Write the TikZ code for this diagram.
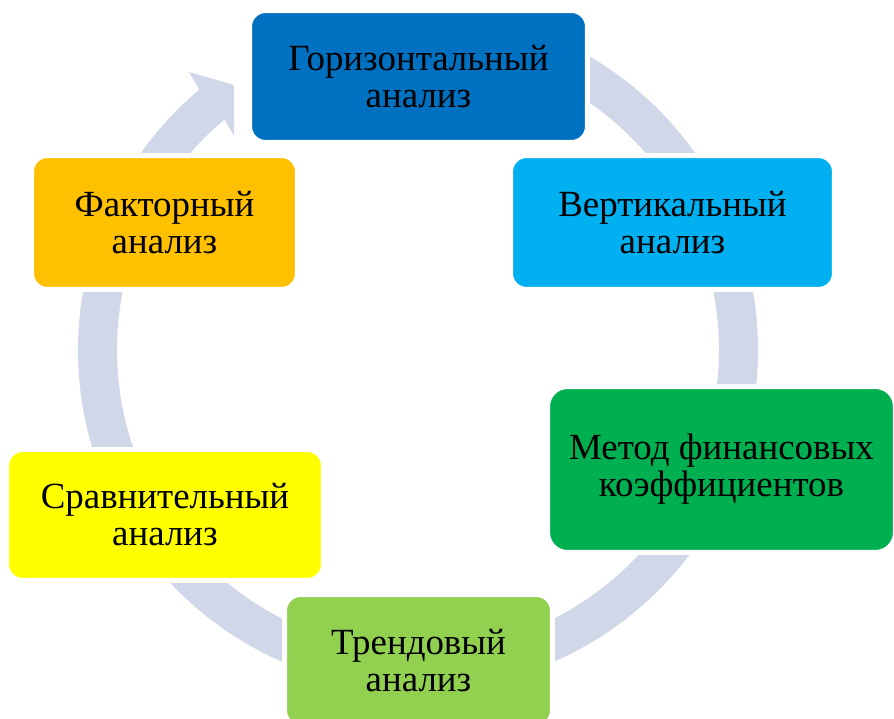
\documentclass[tikz,border=0pt]{standalone}
\usepackage{fontspec}
\setmainfont{Liberation Serif}
\usetikzlibrary{calc}
\definecolor{ringc}{RGB}{208,215,232}
\definecolor{hblue}{RGB}{0,112,192}
\definecolor{vblue}{RGB}{0,176,240}
\definecolor{mgreen}{RGB}{0,176,80}
\definecolor{tgreen}{RGB}{146,208,80}
\definecolor{syellow}{RGB}{255,255,0}
\definecolor{forange}{RGB}{255,192,0}
\begin{document}
\begin{tikzpicture}[x=0.02cm,y=-0.02cm,
  box/.style={draw=white, line width=0.1cm, rounded corners=0.32cm, align=center,
    inner sep=0pt, text=black, font=\fontsize{21}{21}\selectfont}]
\useasboundingbox (0,0) rectangle (894,719);
\fill[white] (0,0) rectangle (894,719);
\coordinate (c) at (418,350);
% ring
\draw[ringc, line width=0.78cm] ($(c)+(-130:320.5)$) arc[start angle=-130, end angle=-435, radius=320.5];
% arrowhead
\fill[ringc] ($(c)+(-130:340)$) -- (189,72) -- (234,85) -- (234,136) -- ($(c)+(-130:301)$) -- cycle;
% boxes
\node[box, fill=hblue, minimum width=6.76cm, minimum height=2.64cm] (h) at (418.5,76.5) {Горизонтальный\\анализ};
\node[box, fill=vblue, minimum width=6.48cm, minimum height=2.68cm] (v) at (672.5,222.5) {Вертикальный\\анализ};
\node[box, fill=mgreen, minimum width=6.96cm, minimum height=3.32cm, rounded corners=0.4cm] (m) at (721.5,469.5) {Метод финансовых\\коэффициентов};
\node[box, fill=tgreen, minimum width=5.36cm, minimum height=2.64cm] (t) at (418.5,660.5) {Трендовый\\анализ};
\node[box, fill=syellow, minimum width=6.34cm, minimum height=2.62cm] (s) at (165,515) {Сравнительный\\анализ};
\node[box, fill=forange, minimum width=5.32cm, minimum height=2.68cm] (f) at (164.5,222.5) {Факторный\\анализ};
\end{tikzpicture}
\end{document}
